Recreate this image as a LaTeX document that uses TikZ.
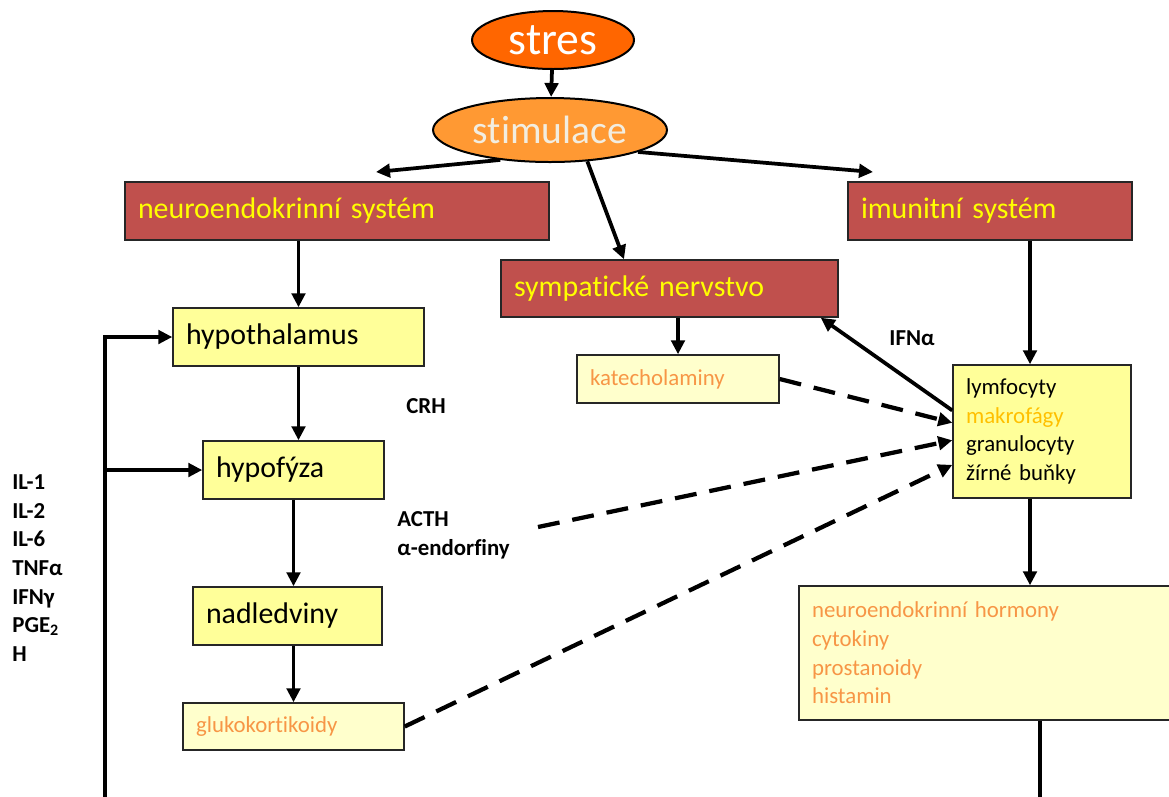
\documentclass[tikz,border=0pt]{standalone}
\usepackage{fontspec}
\setmainfont{Carlito}[Ligatures=NoCommon]
\usetikzlibrary{arrows.meta,shapes.geometric}
\definecolor{stresorange}{HTML}{FF6600}
\definecolor{stimorange}{HTML}{FF9933}
\definecolor{stimtext}{HTML}{F2EDE0}
\definecolor{sysred}{HTML}{C0504D}
\definecolor{sysyellow}{HTML}{FFFF00}
\definecolor{boxyellow}{HTML}{FFFF99}
\definecolor{boxpale}{HTML}{FFFFCC}
\definecolor{textorange}{HTML}{F79646}
\definecolor{makrogold}{HTML}{FFC000}
\tikzset{
  oval/.style={ellipse, draw=black, line width=0.04cm, inner sep=0pt},
  box/.style={draw=black!85, line width=0.03cm, inner xsep=0.26cm, inner ysep=0pt, align=left},
  sysbox/.style={box, fill=sysred, text=sysyellow, font=\fontsize{17}{20}\selectfont},
  organbox/.style={box, fill=boxyellow, font=\fontsize{17}{20}\selectfont},
  cellbox/.style={box, fill=boxyellow, font=\fontsize{13}{16.3}\selectfont},
  outbox/.style={box, fill=boxpale, text=textorange, font=\fontsize{13}{16.3}\selectfont},
  lbl/.style={font=\fontsize{13}{16.3}\selectfont\bfseries, align=left, inner sep=0pt},
  arr/.style={line width=0.075cm, -{Triangle[length=0.28cm,width=0.27cm]}},
  darr/.style={arr, line width=0.085cm, dash pattern=on 0.44cm off 0.26cm},
  plain/.style={line width=0.075cm}
}
\begin{document}
\begin{tikzpicture}[x=0.02cm,y=-0.02cm]
  \useasboundingbox (0,0) rectangle (1169,796);
  \clip (0,0) rectangle (1169,796);

  % top
  \node[oval, fill=stresorange, text=white, minimum width=3.24cm, minimum height=1.16cm,
        font=\fontsize{26}{30}\selectfont] (stres) at (553,40) {stres};
  \node[oval, fill=stimorange, text=stimtext, minimum width=4.68cm, minimum height=1.28cm,
        font=\fontsize{22.5}{26}\selectfont] (stimul) at (550,130) {stimulace};
  \draw[arr] (stres) -- (stimul);

  % systems
  \node[sysbox, text width=7.96cm, minimum height=1.16cm] (neuro) at (337,211) {neuroendokrinní systém};
  \node[sysbox, text width=5.16cm, minimum height=1.16cm] (imun) at (990,211) {imunitní systém};
  \node[sysbox, text width=6.22cm, minimum height=1.14cm] (symp) at (669.5,288.5) {sympatické nervstvo};
  \coordinate (neuroT) at (376,172);
  \coordinate (imunT) at (873,172);
  \draw[arr] (stimul.211) -- (neuroT);
  \draw[arr] (stimul.320) -- (symp.north -| 624,0);
  \draw[arr] (stimul.346) -- (imunT);

  % hormonal axis
  \node[organbox, text width=4.50cm, minimum height=1.16cm] (hypoth) at (298.5,337) {hypothalamus};
  \node[organbox, text width=3.10cm, minimum height=1.16cm] (hypof) at (293.5,470) {hypofýza};
  \node[organbox, text width=3.26cm, minimum height=1.16cm] (nadl) at (287.5,616) {nadledviny};
  \node[outbox, text width=3.90cm, minimum height=0.94cm] (gluko) at (293.5,726.5) {glukokortikoidy};
  \draw[arr] (neuro.south -| hypoth.north) -- (hypoth.north);
  \draw[arr] (hypoth.south) -- (hypoth.south |- hypof.north);
  \draw[arr] (hypof.south) -- (hypof.south |- nadl.north);
  \draw[arr] (gluko.north |- nadl.south) -- (gluko.north);

  % sympathetic + immune
  \node[outbox, text width=3.52cm, minimum height=0.96cm] (kat) at (678,379) {katecholaminy};
  \node[cellbox, text width=3.04cm, minimum height=2.66cm] (lymf) at (1042,431.5)
    {lymfocyty\\\textcolor{makrogold}{makrofágy}\\granulocyty\\žírné buňky};
  \node[outbox, text width=7.10cm, minimum height=2.68cm] (horm) at (989.5,653)
    {neuroendokrinní hormony\\cytokiny\\prostanoidy\\histamin};
  \coordinate (immx) at (1030,0);
  \coordinate (hormout) at (1040,800);
  \draw[arr] (kat.north |- symp.south) -- (kat.north);
  \draw[arr] (imun.south -| immx) -- (lymf.north -| immx);
  \draw[arr] (lymf.south -| immx) -- (horm.north -| immx);
  \draw[plain] (horm.south -| hormout) -- (hormout);
  \draw[arr] ([yshift=12pt]lymf.west) -- ([xshift=-0.36cm]symp.south east);

  % labels
  \node[lbl] (crh) at (426,406) {CRH};
  \node[lbl, anchor=west] (acth) at (397,535) {ACTH\\α-endorfiny};
  \node[lbl] (ifna) at (912,338) {IFNα};
  \node[lbl, anchor=west] (cyto) at (12,568)
    {IL-1\\IL-2\\IL-6\\TNFα\\IFNγ\\PGE\textsubscript{2}\\H};
  \coordinate (acthE) at (538,527);

  % feedback to the brain
  \draw[darr] (kat.east) -- ([yshift=5pt]lymf.west);
  \draw[darr] (acthE) -- ([yshift=-5pt]lymf.west);
  \draw[darr] (gluko.east) -- ([yshift=-19pt]lymf.west);
  \coordinate (fbbot) at (105,800);
  \coordinate (fbmid) at (fbbot |- hypof.west);
  \draw[arr] (fbbot) |- (hypoth.west);
  \draw[arr] (fbmid) -- (hypof.west);
\end{tikzpicture}
\end{document}
